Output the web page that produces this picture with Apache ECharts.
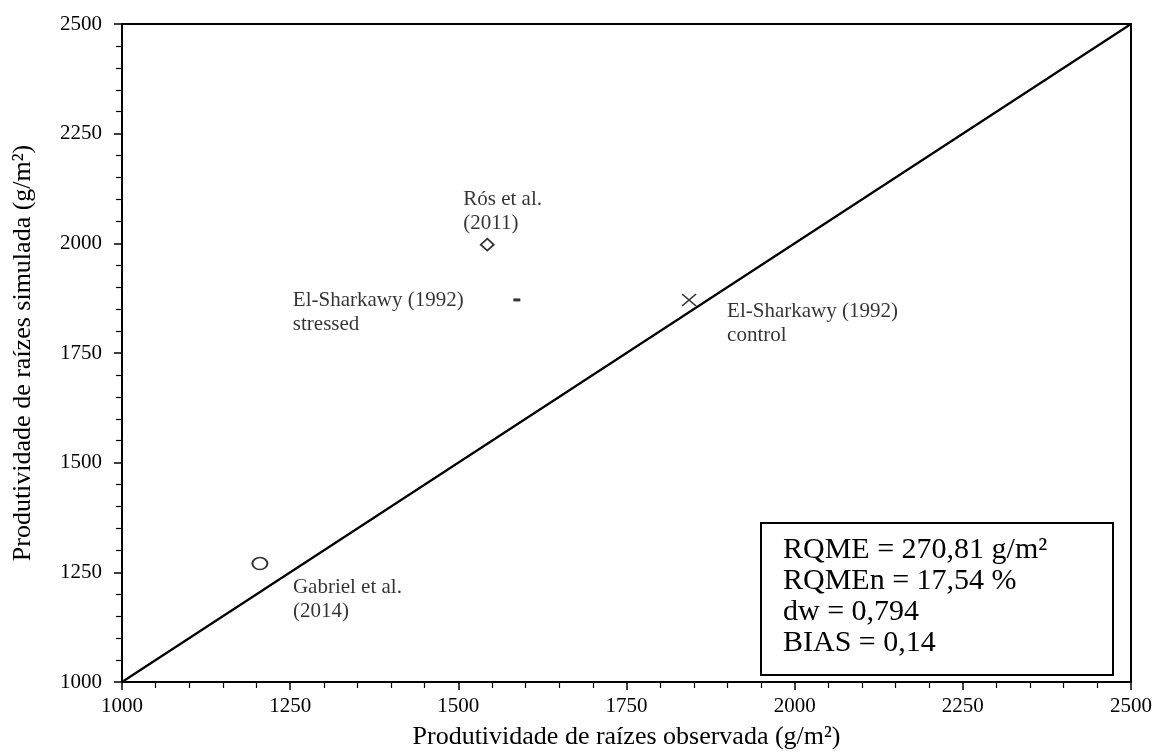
<!DOCTYPE html>
<html>
<head>
<meta charset="utf-8">
<script src="https://cdn.jsdelivr.net/npm/echarts@6/dist/echarts.min.js"></script>
<style>html,body{margin:0;padding:0;background:#fff}#c{width:1159px;height:755px}</style>
</head>
<body>
<div id="c"></div>
<script>
// ---- data ----
const xTicks = [1000, 1250, 1500, 1750, 2000, 2250, 2500];
const yTicks = [1000, 1250, 1500, 1750, 2000, 2250, 2500];
const pointNames = ['Gabriel et al.\n(2014)', 'Rós et al.\n(2011)', 'El-Sharkawy (1992)\nstressed', 'El-Sharkawy (1992)\ncontrol'];
const observed = [1205, 1543, 1587, 1843];
const simulated = [1270, 1997, 1871, 1871];
const identityLine = [[1000, 1000], [2500, 2500]];
const statsLines = ['RQME = 270,81 g/m²', 'RQMEn = 17,54 %', 'dw = 0,794', 'BIAS = 0,14'];
const xTitle = 'Produtividade de raízes observada (g/m²)';
const yTitle = 'Produtividade de raízes simulada (g/m²)';

const FONT = 'Liberation Serif';
const chart = echarts.init(document.getElementById('c'));

const markerStyles = [
  {symbol: 'circle', symbolSize: [15, 12], itemStyle: {color: 'transparent', borderColor: '#000', borderWidth: 1.8}, label: {offset: [33, 36]}},
  {symbol: 'diamond', symbolSize: [13, 12], itemStyle: {color: 'transparent', borderColor: '#000', borderWidth: 1.8}, label: {offset: [-24, -33]}},
  {symbol: 'rect', symbolSize: [7, 3], itemStyle: {color: '#000'}, label: {offset: [-224, 13]}},
  {symbol: 'path://M0,0L10,10M10,0L0,10', symbolSize: [14, 12], itemStyle: {color: 'transparent', borderColor: '#000', borderWidth: 1.5}, label: {offset: [38, 24]}}
];

const pointSeries = observed.map((x, i) => ({
  type: 'scatter',
  data: [[x, simulated[i]]],
  symbol: markerStyles[i].symbol,
  symbolSize: markerStyles[i].symbolSize,
  itemStyle: markerStyles[i].itemStyle,
  z: 5,
  label: {
    show: true,
    formatter: pointNames[i],
    position: 'inside',
    align: 'left',
    verticalAlign: 'middle',
    offset: markerStyles[i].label.offset,
    fontFamily: FONT,
    fontSize: 21,
    lineHeight: 24,
    color: '#000'
  },
  emphasis: {disabled: true}
}));

const axisCommon = {
  min: 1000, max: 2500, interval: 250,
  axisLine: {show: true, onZero: false, lineStyle: {color: '#000', width: 2}},
  axisTick: {show: true, inside: false, length: 8, lineStyle: {color: '#000', width: 1.5}},
  minorTick: {show: true, splitNumber: 5, length: 6, lineStyle: {color: '#000', width: 1.2}},
  splitLine: {show: false},
  nameLocation: 'middle',
  nameTextStyle: {fontFamily: FONT, fontSize: 26, color: '#000'}
};

chart.setOption({
  animation: false,
  backgroundColor: '#fff',
  grid: {left: 122, right: 28, top: 24, bottom: 70, show: true, borderColor: '#000', borderWidth: 2, backgroundColor: 'transparent'},
  xAxis: Object.assign({}, axisCommon, {
    type: 'value',
    name: xTitle,
    nameGap: 42,
    axisLabel: {margin: 14, fontFamily: FONT, fontSize: 21, color: '#000',
      customValues: xTicks, formatter: v => String(v)}
  }),
  yAxis: Object.assign({}, axisCommon, {
    type: 'value',
    name: yTitle,
    nameGap: 86,
    axisLabel: {margin: 20, fontFamily: FONT, fontSize: 21, color: '#000',
      customValues: yTicks, formatter: v => String(v)}
  }),
  series: [
    {type: 'line', data: identityLine, symbol: 'none', lineStyle: {color: '#000', width: 2.2}, z: 3, silent: true}
  ].concat(pointSeries),
  graphic: [{
    type: 'group',
    left: 760, top: 522,
    children: [
      {type: 'rect', shape: {x: 0, y: 0, width: 352, height: 152}, style: {fill: '#fff', stroke: '#000', lineWidth: 2}},
      {type: 'text', x: 22, y: 12, style: {text: statsLines.join('\n'), fontFamily: FONT, fontSize: 30, lineHeight: 31, fill: '#000'}}
    ]
  }]
});
</script>
</body>
</html>
